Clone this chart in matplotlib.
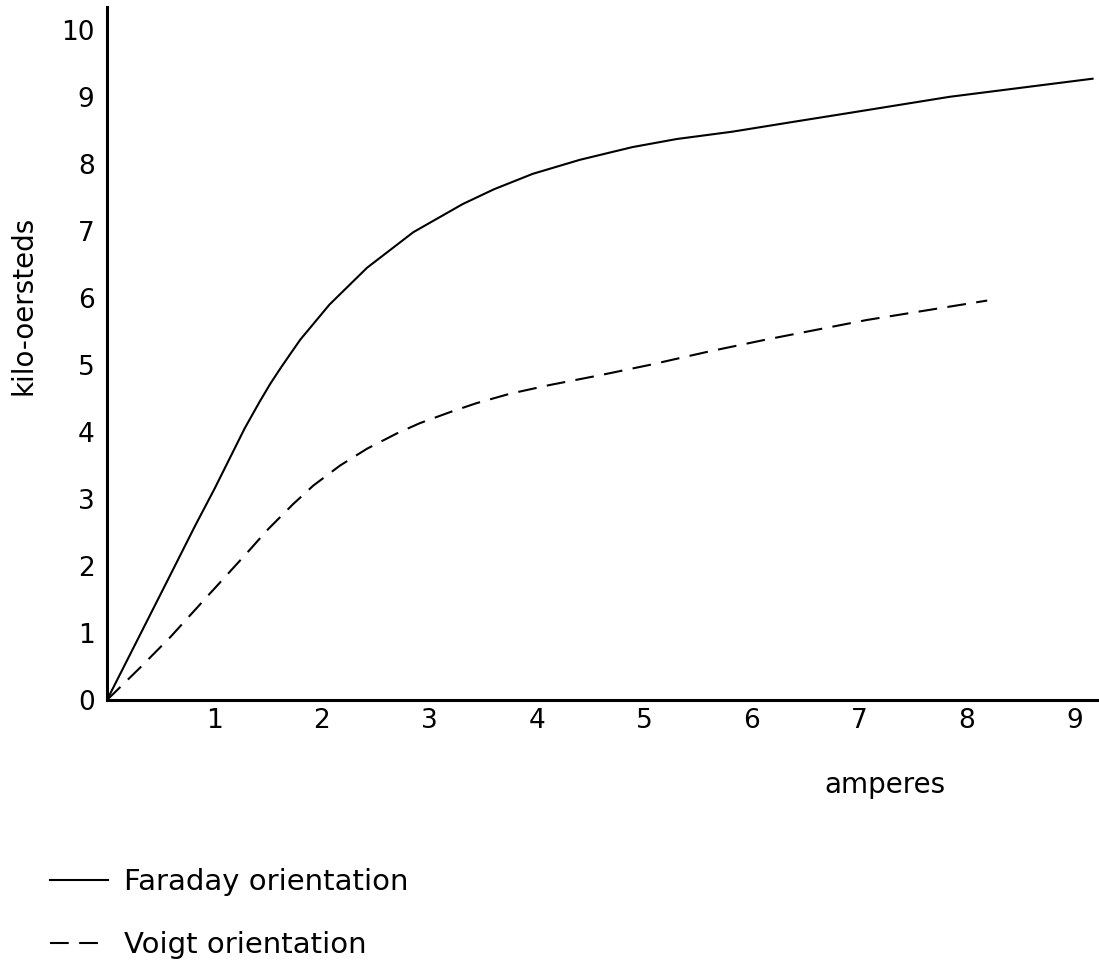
import matplotlib
matplotlib.use('Agg')
import matplotlib.pyplot as plt

# field strength vs. magnet current
faraday_amps = [0, 0.3, 0.6, 0.82, 1.0, 1.14, 1.28, 1.42, 1.52, 1.61, 1.7, 1.8, 2.07,
                2.42, 2.85, 3.31, 3.6, 3.96, 4.4, 4.89, 5.3, 5.82, 6.4, 6.91, 7.84, 9.17]
faraday_koe = [0, 0.95, 1.9, 2.6, 3.15, 3.6, 4.05, 4.45, 4.72, 4.94, 5.15, 5.38, 5.9,
               6.45, 6.98, 7.4, 7.62, 7.85, 8.06, 8.25, 8.37, 8.48, 8.63, 8.76, 9.0, 9.27]

voigt_amps = [0, 0.3, 0.59, 0.93, 1.30, 1.50, 1.73, 1.92, 2.17, 2.42, 2.7, 2.91,
              3.2, 3.44, 3.75, 4.12, 4.6, 5.05, 5.6, 6.14, 7.07, 8.19]
voigt_koe = [0, 0.47, 0.94, 1.54, 2.19, 2.55, 2.92, 3.2, 3.5, 3.75, 3.98, 4.13,
             4.3, 4.43, 4.57, 4.70, 4.85, 5.0, 5.2, 5.38, 5.67, 5.96]

x_ticks = [1, 2, 3, 4, 5, 6, 7, 8, 9]
y_ticks = [0, 1, 2, 3, 4, 5, 6, 7, 8, 9, 10]

plt.rcParams['font.family'] = ['DejaVu Sans']
fs = 19

fig = plt.figure(figsize=(10.99, 9.61), dpi=100)
ax = fig.add_axes([107 / 1099, 1 - 700 / 961, 1 - 107 / 1099, 693 / 961])

ax.plot(faraday_amps, faraday_koe, color='black', lw=1.5,
        solid_joinstyle='round', label='Faraday orientation')
ax.plot(voigt_amps, voigt_koe, color='black', lw=1.5, dashes=(9, 5),
        label='Voigt orientation')

ax.set_xlim(0, 9.23)
ax.set_ylim(0, 10.34)
for side in ('top', 'right'):
    ax.spines[side].set_visible(False)
for side in ('left', 'bottom'):
    ax.spines[side].set_linewidth(2.2)
ax.set_xticks(x_ticks)
ax.set_yticks(y_ticks)
ax.tick_params(axis='both', length=0, labelsize=fs)
ax.tick_params(axis='y', pad=9)
ax.tick_params(axis='x', pad=6)

fig.text(24 / 1099, 1 - 305 / 961, 'kilo-oersteds', rotation=90,
         ha='center', va='center', fontsize=fs + 1)
fig.text(885 / 1099, 1 - 785 / 961, 'amperes', ha='center', va='center', fontsize=fs + 1)

fig.legend(loc='upper left', bbox_to_anchor=(50 / 1099, 1 - 868 / 961),
           frameon=False, fontsize=fs + 2, handlelength=2.0, handletextpad=0.55,
           labelspacing=1.2, borderpad=0, borderaxespad=0)

fig.savefig('out.png', dpi=100)
